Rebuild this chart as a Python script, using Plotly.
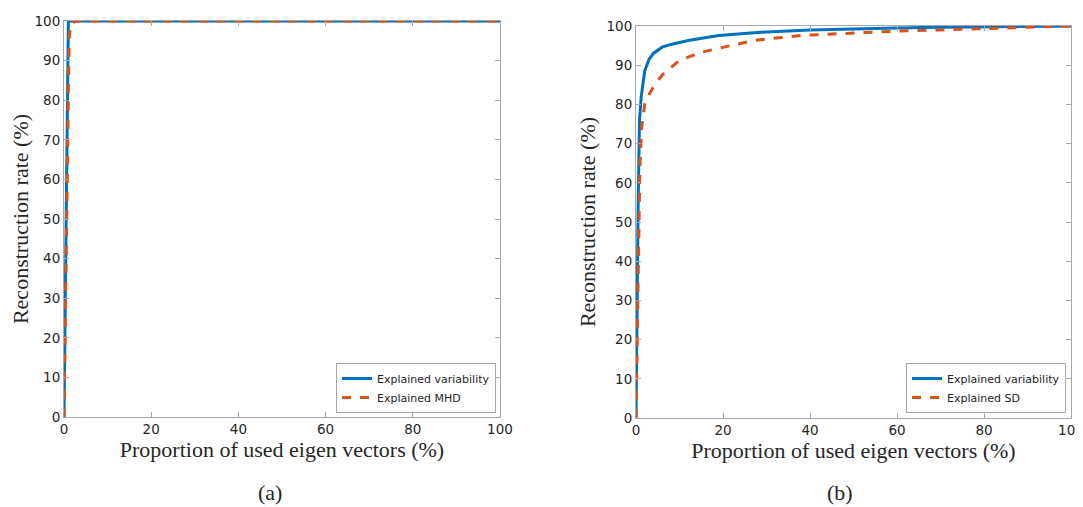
import plotly.graph_objects as go

# Panel (a)
a_blue_x = [0, 0.3, 0.6, 0.9, 1.0, 100]
a_blue_y = [0, 30, 65, 95, 100, 100]
a_orange_x = [0, 0.3, 0.6, 0.9, 1.2, 1.6, 3, 100]
a_orange_y = [0, 25, 55, 85, 96, 99.5, 100, 100]

# Panel (b)
b_blue_x = [0, 0.2, 0.5, 0.8, 1.2, 2, 3, 4, 6, 8, 12, 19, 30, 40, 50, 60, 70, 80, 90, 100]
b_blue_y = [0, 25, 55, 76, 82, 88.5, 91.5, 93, 94.6, 95.3, 96.3, 97.6, 98.5, 99, 99.3, 99.5, 99.7, 99.8, 99.9, 100]
b_orange_x = [0, 0.3, 0.6, 0.9, 1.3, 2, 3, 4, 6, 10, 15, 20, 27, 38, 50, 60, 70, 80, 90, 100]
b_orange_y = [0, 20, 45, 64, 74, 80, 82.5, 84.5, 87.5, 91.2, 93.3, 94.6, 96.3, 97.6, 98.3, 98.7, 99.0, 99.3, 99.6, 100]

ticks = [0, 20, 40, 60, 80, 100]
yticks = [0, 10, 20, 30, 40, 50, 60, 70, 80, 90, 100]

BLUE = "#0072BD"
ORANGE = "#D95319"

# page has an 8px body margin; figure drawn at offset (8, 8)
OFF = 8
W, H = 1083 - OFF, 507 - OFF


def px(x):
    return (x - OFF) / W


def py(y):
    return 1 - (y - OFF) / H


fig = go.Figure()
fig.add_trace(go.Scatter(x=a_blue_x, y=a_blue_y, mode="lines", line=dict(color=BLUE, width=3),
                         name="Explained variability", legend="legend", xaxis="x", yaxis="y"))
fig.add_trace(go.Scatter(x=a_orange_x, y=a_orange_y, mode="lines", line=dict(color=ORANGE, width=3, dash="dash"),
                         name="Explained MHD", legend="legend", xaxis="x", yaxis="y"))
fig.add_trace(go.Scatter(x=b_blue_x, y=b_blue_y, mode="lines", line=dict(color=BLUE, width=3),
                         name="Explained variability", legend="legend2", xaxis="x2", yaxis="y2"))
fig.add_trace(go.Scatter(x=b_orange_x, y=b_orange_y, mode="lines", line=dict(color=ORANGE, width=3, dash="dash"),
                         name="Explained SD", legend="legend2", xaxis="x2", yaxis="y2"))

axis_common = dict(showline=True, mirror="ticks", linecolor="#a8a8a8", linewidth=1, automargin=False,
                   ticks="inside", ticklen=5, tickcolor="#a8a8a8", showgrid=False, zeroline=False,
                   ticklabeloverflow="allow",
                   tickfont=dict(family="DejaVu Sans", size=13.5, color="#262626"))
title_font = dict(family="Liberation Serif", size=22, color="#262626")

fig.update_layout(
    width=W, height=H, margin=dict(l=0, r=0, t=0, b=0),
    plot_bgcolor="white", paper_bgcolor="white",
    xaxis=dict(domain=[px(64), px(500)], range=[0, 100], tickvals=ticks, anchor="y",
               title=dict(text="Proportion of used eigen vectors (%)", font=title_font, standoff=1), **axis_common),
    yaxis=dict(domain=[py(417), py(21)], range=[0, 100], tickvals=yticks, anchor="x",
               title=dict(text="Reconstruction rate (%)", font=title_font, standoff=4), **axis_common),
    xaxis2=dict(domain=[px(636), px(1071)], range=[0, 100], tickvals=ticks, anchor="y2",
                title=dict(text="Proportion of used eigen vectors (%)", font=title_font, standoff=1), **axis_common),
    yaxis2=dict(domain=[py(418), py(26)], range=[0, 100], tickvals=yticks, anchor="x2",
                title=dict(text="Reconstruction rate (%)", font=title_font, standoff=4), **axis_common),
    legend=dict(x=px(496), y=py(413), xanchor="right", yanchor="bottom",
                bgcolor="white", bordercolor="#a8a8a8", borderwidth=1,
                font=dict(family="DejaVu Sans", size=11, color="#262626"),
                tracegroupgap=0, itemwidth=30),
    legend2=dict(x=px(1066), y=py(413), xanchor="right", yanchor="bottom",
                 bgcolor="white", bordercolor="#a8a8a8", borderwidth=1,
                 font=dict(family="DejaVu Sans", size=11, color="#262626"),
                 tracegroupgap=0, itemwidth=30),
    annotations=[
        dict(text="(a)", x=px(270), y=py(492), xref="paper", yref="paper", showarrow=False,
             xanchor="center", yanchor="middle",
             font=dict(family="Liberation Serif", size=22, color="#262626")),
        dict(text="(b)", x=px(840), y=py(492), xref="paper", yref="paper", showarrow=False,
             xanchor="center", yanchor="middle",
             font=dict(family="Liberation Serif", size=22, color="#262626")),
    ],
)

fig.write_html("out.html")
